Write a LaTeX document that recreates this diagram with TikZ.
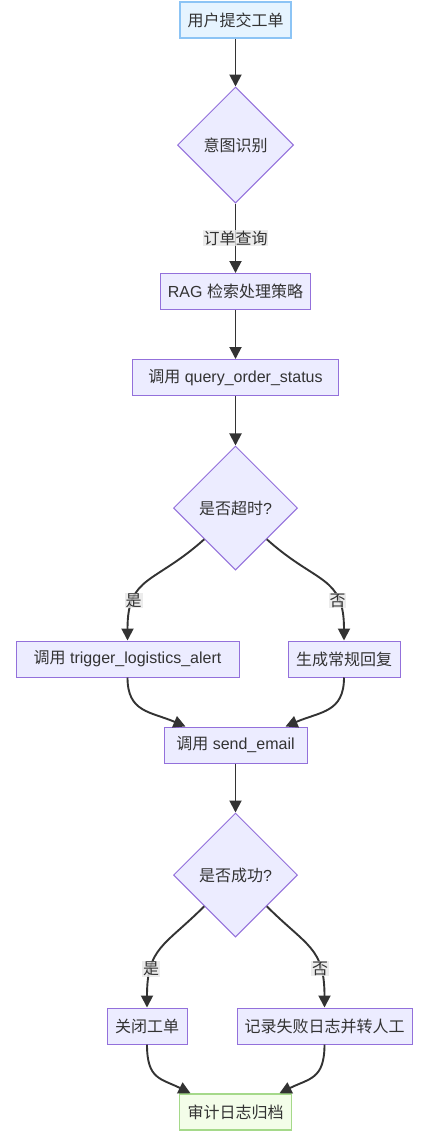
\documentclass[tikz,border=0pt]{standalone}
\usepackage{fontspec}
\setmainfont{Liberation Sans}
\newfontfamily\cjk{Noto Sans CJK SC}
\usetikzlibrary{shapes.geometric,arrows.meta}

\definecolor{nodefill}{HTML}{ECECFF}
\definecolor{nodeline}{HTML}{9370DB}
\definecolor{startfill}{HTML}{E6F4FF}
\definecolor{startline}{HTML}{8CC4F5}
\definecolor{endfill}{HTML}{F3FDE9}
\definecolor{endline}{HTML}{A5D98A}
\definecolor{edgeline}{HTML}{333333}
\definecolor{labelfill}{HTML}{E8E8E8}

\tikzset{
  box/.style={draw=nodeline, fill=nodefill, line width=1pt, minimum height=36pt,
    inner sep=0pt, text=edgeline, font=\fontsize{16}{19}\selectfont},
  startbox/.style={box, draw=startline, fill=startfill, line width=1.5pt},
  endbox/.style={box, draw=endline, fill=endfill, line width=1.5pt},
  decision/.style={diamond, aspect=1, draw=nodeline, fill=nodefill, line width=1pt,
    inner sep=0pt, text=edgeline, font=\fontsize{16}{19}\selectfont},
  edge/.style={draw=edgeline, line width=1.9pt, -{Triangle[length=12pt,width=12pt]}},
  edgelabel/.style={fill=labelfill, fill opacity=0.8, text opacity=1, inner sep=0.8pt,
    text=edgeline, font=\fontsize{16}{19}\selectfont}
}

\begin{document}
\begin{tikzpicture}[x=1pt,y=-1pt]

% ---------------- canvas ----------------
\path[fill=white] (0,0) rectangle (434,1146);

% ---------------- nodes ----------------
\node[startbox, minimum width=111pt] (submit) at (235.5,20) {\cjk 用户提交工单};
\node[decision, minimum size=116pt] (intent) at (235.5,145) {\cjk 意图识别};
\node[box, minimum width=150pt] (rag) at (235.5,291.5) {RAG {\cjk 检索处理策略}};
\node[box, minimum width=206pt] (query) at (235.5,377.5) {{\cjk 调用} query\_order\_status};
\node[decision, minimum size=124pt] (timeout) at (235.5,508) {{\cjk 是否超时}?};

\node[box, minimum width=223pt] (alert) at (127.5,659) {{\cjk 调用} trigger\_logistics\_alert};
\node[box, minimum width=112pt] (reply) at (344,659) {\cjk 生成常规回复};

\node[box, minimum width=143pt] (email) at (235.5,745) {{\cjk 调用} send\_email};
\node[decision, minimum size=124pt] (success) at (235.5,875) {{\cjk 是否成功}?};

\node[box, minimum width=80pt] (close) at (147,1026) {\cjk 关闭工单};
\node[box, minimum width=175pt] (handoff) at (324.5,1026) {\cjk 记录失败日志并转人工};
\node[endbox, minimum width=112pt] (archive) at (235.5,1112) {\cjk 审计日志归档};

% ---------------- main line ----------------
\draw[edge] (submit) -- (intent);
\draw[edge] (intent) -- node[edgelabel] {\cjk 订单查询} (rag);
\draw[edge] (rag) -- (query);
\draw[edge] (query) -- (timeout);

% ---------------- timeout branch ----------------
\draw[edge] (timeout.south west) .. controls +(-50,45) and +(0,-65) ..
  node[edgelabel, pos=0.72] {\cjk 是} (alert.north);
\draw[edge] (timeout.south east) .. controls +(50,45) and +(0,-65) ..
  node[edgelabel, pos=0.72] {\cjk 否} (reply.north);
\draw[edge] (alert.south) .. controls +(0,35) and +(-35,-15) .. ([xshift=-50pt]email.north);
\draw[edge] (reply.south) .. controls +(0,35) and +(35,-15) .. ([xshift=50pt]email.north);

\draw[edge] (email) -- (success);

% ---------------- success branch ----------------
\draw[edge] (success.south west) .. controls +(-40,40) and +(0,-60) ..
  node[edgelabel, pos=0.72] {\cjk 是} (close.north);
\draw[edge] (success.south east) .. controls +(40,40) and +(0,-60) ..
  node[edgelabel, pos=0.72] {\cjk 否} (handoff.north);
\draw[edge] (close.south) .. controls +(0,35) and +(-30,-15) .. ([xshift=-45pt]archive.north);
\draw[edge] (handoff.south) .. controls +(0,35) and +(30,-15) .. ([xshift=44pt]archive.north);

\end{tikzpicture}
\end{document}
